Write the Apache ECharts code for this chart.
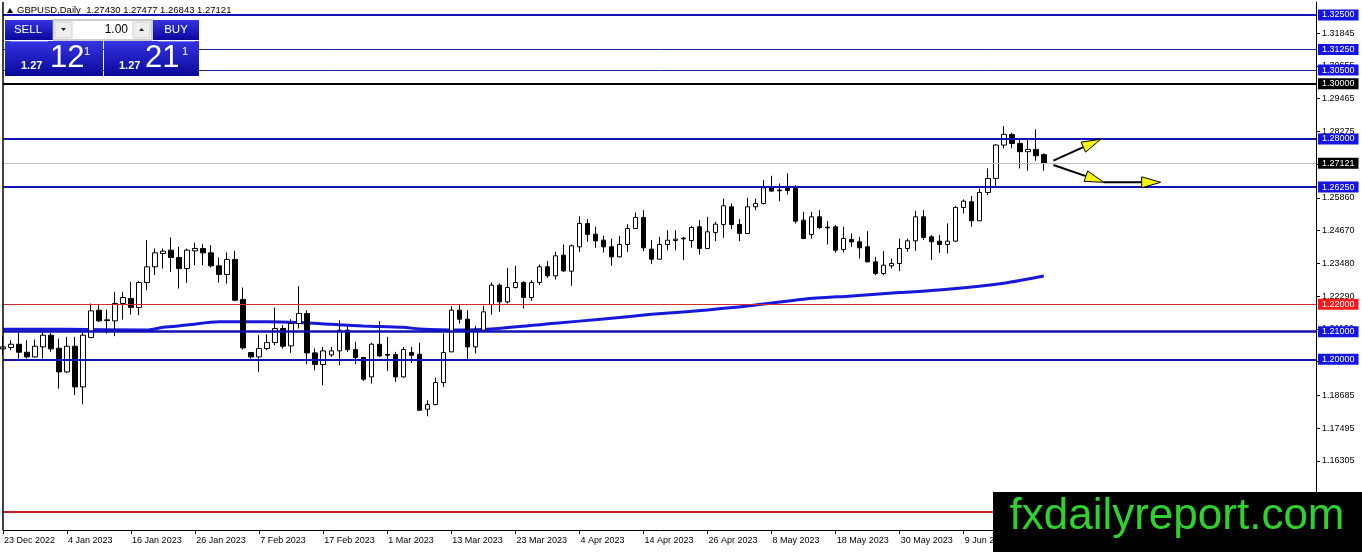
<!DOCTYPE html>
<html>
<head>
    <meta charset="utf-8">
    <title>GBPUSD Daily</title>
    <script src="https://cdn.jsdelivr.net/npm/echarts@6/dist/echarts.min.js"></script>
    <style>
        html, body { margin: 0; padding: 0; background: #fff; }
    </style>
</head>
<body>
    <div id="main" style="width:1362px;height:552px;"></div>
    <script type="text/javascript">
        // daily bars, 23 Dec 2022 .. 23 Jun 2023
        var opens = [
            1.20377, 1.20425, 1.20546, 1.20255, 1.20086, 1.20449, 1.20873, 1.20401, 1.19541, 1.20473,
            1.18996, 1.20788, 1.21781, 1.21430, 1.21394, 1.22024, 1.22205, 1.21878, 1.22786, 1.23356,
            1.23840, 1.23961, 1.23695, 1.23295, 1.23937, 1.24022, 1.23864, 1.23392, 1.23077, 1.23622,
            1.22169, 1.20243, 1.20086, 1.20389, 1.20607, 1.21115, 1.20486, 1.21297, 1.21660, 1.20231,
            1.19807, 1.20159, 1.20304, 1.21055, 1.20352, 1.20062, 1.19359, 1.20546, 1.20171, 1.20171,
            1.19359, 1.20243, 1.20183, 1.18185, 1.18354, 1.19153, 1.20268, 1.21781, 1.21454, 1.20449,
            1.21055, 1.21987, 1.22690, 1.22084, 1.22605, 1.22787, 1.22242, 1.22787, 1.23356, 1.23029,
            1.23780, 1.23198, 1.24082, 1.24930, 1.24542, 1.24324, 1.24082, 1.23719, 1.24167, 1.24748,
            1.25148, 1.23998, 1.23634, 1.24167, 1.24312, 1.24397, 1.24312, 1.24809, 1.24022, 1.24603,
            1.24894, 1.25536, 1.24894, 1.24567, 1.25536, 1.25657, 1.26262, 1.26141, 1.26226, 1.26202,
            1.25051, 1.24530, 1.25172, 1.24797, 1.24809, 1.23986, 1.24349, 1.24264, 1.24082, 1.23537,
            1.23114, 1.23392, 1.23477, 1.24023, 1.24301, 1.25173, 1.24446, 1.24289, 1.24168, 1.24289,
            1.25512, 1.25718, 1.25028, 1.26057, 1.26565, 1.27777, 1.28164, 1.27837, 1.27534, 1.27619,
            1.27430
        ];
        var closes = [
            1.20449, 1.20546, 1.20255, 1.20086, 1.20473, 1.20873, 1.20377, 1.19541, 1.20473, 1.18996,
            1.20873, 1.21757, 1.21394, 1.21406, 1.22024, 1.22242, 1.21878, 1.22786, 1.23356, 1.23864,
            1.23925, 1.23695, 1.23295, 1.23961, 1.24022, 1.23864, 1.23392, 1.23077, 1.23622, 1.22145,
            1.20413, 1.20086, 1.20389, 1.20607, 1.21115, 1.20473, 1.21297, 1.21660, 1.20231, 1.19807,
            1.20304, 1.20304, 1.21055, 1.20352, 1.20062, 1.19275, 1.20546, 1.20122, 1.20146, 1.19359,
            1.20352, 1.20146, 1.18148, 1.18354, 1.19153, 1.20243, 1.21781, 1.21454, 1.20449, 1.21055,
            1.21721, 1.22690, 1.22084, 1.22605, 1.22787, 1.22242, 1.22787, 1.23356, 1.23029, 1.23755,
            1.23210, 1.24119, 1.24930, 1.24530, 1.24300, 1.24082, 1.23719, 1.24167, 1.24748, 1.25148,
            1.24046, 1.23634, 1.24167, 1.24324, 1.24361, 1.24373, 1.24784, 1.24022, 1.24627, 1.24906,
            1.25572, 1.24894, 1.24567, 1.25536, 1.25657, 1.26226, 1.26105, 1.26117, 1.26129, 1.25015,
            1.24385, 1.25172, 1.24785, 1.24773, 1.23961, 1.24385, 1.24264, 1.24046, 1.23537, 1.23114,
            1.23416, 1.23477, 1.24022, 1.24301, 1.25173, 1.24422, 1.24265, 1.24168, 1.24289, 1.25512,
            1.25742, 1.25028, 1.26057, 1.26565, 1.27777, 1.28164, 1.27837, 1.27534, 1.27619, 1.27389,
            1.27121
        ];
        var highs = [
            1.20837, 1.20691, 1.20958, 1.20691, 1.20716, 1.20994, 1.20958, 1.20752, 1.20813, 1.20813,
            1.20994, 1.22024, 1.21963, 1.21806, 1.22447, 1.22447, 1.22811, 1.22847, 1.24324, 1.24022,
            1.24022, 1.24421, 1.24082, 1.24022, 1.24228, 1.24179, 1.24143, 1.23695, 1.23876, 1.23937,
            1.22605, 1.20268, 1.20873, 1.20909, 1.21878, 1.21236, 1.21454, 1.22653, 1.21781, 1.20389,
            1.20449, 1.20449, 1.21418, 1.21200, 1.20631, 1.20086, 1.20595, 1.21382, 1.20813, 1.20268,
            1.20449, 1.20449, 1.20607, 1.18512, 1.19335, 1.20934, 1.21927, 1.21963, 1.21781, 1.21212,
            1.21939, 1.22787, 1.22750, 1.23319, 1.23392, 1.22835, 1.22871, 1.23441, 1.23562, 1.23901,
            1.24167, 1.24167, 1.25196, 1.25087, 1.24809, 1.24482, 1.24385, 1.24482, 1.24905, 1.25330,
            1.25414, 1.24324, 1.24446, 1.24688, 1.24688, 1.24446, 1.24845, 1.25051, 1.25172, 1.24991,
            1.25838, 1.25657, 1.25088, 1.25863, 1.25838, 1.26504, 1.26662, 1.26383, 1.26747, 1.26323,
            1.25354, 1.25354, 1.25415, 1.25015, 1.24870, 1.24809, 1.24567, 1.24446, 1.24651, 1.23719,
            1.23925, 1.23659, 1.24385, 1.24386, 1.25391, 1.25415, 1.24507, 1.24507, 1.24931, 1.25561,
            1.25803, 1.25924, 1.26202, 1.26929, 1.27813, 1.28467, 1.28224, 1.27958, 1.27958, 1.28346,
            1.27477
        ];
        var lows = [
            1.20146, 1.20328, 1.20025, 1.20025, 1.20062, 1.20025, 1.20268, 1.18935, 1.19505, 1.18693,
            1.18366, 1.20788, 1.21357, 1.20934, 1.20837, 1.21442, 1.21624, 1.21600, 1.22508, 1.23053,
            1.23295, 1.23174, 1.22568, 1.22774, 1.23416, 1.23416, 1.23331, 1.22786, 1.22750, 1.22108,
            1.20352, 1.20025, 1.19541, 1.20328, 1.20510, 1.20389, 1.20231, 1.21115, 1.19820, 1.19602,
            1.19057, 1.20086, 1.19783, 1.20268, 1.19820, 1.19214, 1.19117, 1.20086, 1.19577, 1.19178,
            1.19335, 1.19868, 1.18124, 1.17930, 1.18330, 1.18996, 1.20268, 1.21297, 1.20001, 1.20207,
            1.21055, 1.21624, 1.21721, 1.22024, 1.22569, 1.21842, 1.22121, 1.22690, 1.22956, 1.22896,
            1.23174, 1.22665, 1.23901, 1.24264, 1.24046, 1.23876, 1.23392, 1.23695, 1.23901, 1.24748,
            1.23925, 1.23453, 1.23634, 1.23961, 1.23961, 1.23598, 1.24046, 1.23804, 1.23998, 1.24288,
            1.24409, 1.24724, 1.24288, 1.24567, 1.25415, 1.25620, 1.26081, 1.25742, 1.25984, 1.24930,
            1.24361, 1.24385, 1.24724, 1.24167, 1.23877, 1.23877, 1.24082, 1.23659, 1.23513, 1.23053,
            1.23053, 1.23295, 1.23198, 1.23902, 1.23938, 1.24325, 1.23599, 1.23865, 1.23841, 1.24265,
            1.25294, 1.24810, 1.25028, 1.25960, 1.26263, 1.27656, 1.27656, 1.26929, 1.26844, 1.27208,
            1.26843
        ];

        // moving average, sampled along the curve: [bar index, price]
        var maPoints = [
            [0, 1.2109], [8, 1.2109], [18, 1.2106], [20, 1.2116], [23, 1.2124], [27, 1.2136],
            [33, 1.2136], [37, 1.2133], [41, 1.2127], [45, 1.2121], [50, 1.2116], [52, 1.2110],
            [57, 1.2106], [61, 1.2110], [69, 1.2131], [75, 1.2146], [81, 1.2163], [88, 1.2179],
            [93, 1.2193], [100, 1.2218], [106, 1.2230], [112, 1.2242], [118, 1.2254], [125, 1.2276],
            [130, 1.2302]
        ];

        // horizontal levels drawn on the chart
        var levels = [1.32500, 1.31250, 1.30500, 1.30000, 1.28000, 1.27121, 1.26250, 1.22000, 1.21000, 1.20000, 1.14450];

        // price scale labels
        var yTicks = [1.16305, 1.17495, 1.18685, 1.19910, 1.21100, 1.22290, 1.23480, 1.24670,
                      1.25860, 1.27065, 1.28275, 1.29465, 1.30655, 1.31845];

        // arrows: start bar, start price, end bar, end price
        var arrowX1 = [131.2, 131.2, 137.5];
        var arrowY1 = [1.27210, 1.27053, 1.26425];
        var arrowX2 = [137.1, 137.5, 144.6];
        var arrowY2 = [1.27987, 1.26425, 1.26425];

        // categories: weekdays from the first bar, plus empty days for the chart shift
        var totalSlots = 165;
        var months = ['Jan', 'Feb', 'Mar', 'Apr', 'May', 'Jun', 'Jul', 'Aug', 'Sep', 'Oct', 'Nov', 'Dec'];
        var dates = [];
        var day = new Date(2022, 11, 23);
        while (dates.length < totalSlots) {
            var wd = day.getDay();
            if (wd !== 0 && wd !== 6) {
                dates.push(day.getDate() + ' ' + months[day.getMonth()] + ' ' + day.getFullYear());
            }
            day.setDate(day.getDate() + 1);
        }

        var candleData = opens.map(function (o, i) {
            return [o, closes[i], lows[i], highs[i]];
        });
        var arrowData = arrowX1.map(function (x, i) {
            return [x, arrowY1[i], arrowX2[i], arrowY2[i]];
        });

        var BLUE = '#1212b4', BLUE_THIN = '#22229e', BOX_BLUE = '#1414e6';
        var levelStyles = [
            { color: BLUE, width: 2, box: BOX_BLUE },
            { color: BLUE_THIN, width: 1, box: BOX_BLUE },
            { color: BLUE_THIN, width: 1, box: BOX_BLUE },
            { color: '#000', width: 2, box: '#000' },
            { color: BLUE, width: 2, box: BOX_BLUE },
            { color: '#c0c0c0', width: 1, box: '#000' },
            { color: BLUE, width: 2, box: BOX_BLUE },
            { color: '#d42a2a', width: 1, box: '#ff1a1a' },
            { color: BLUE, width: 2.5, box: BOX_BLUE },
            { color: BLUE, width: 2, box: BOX_BLUE },
            { color: '#c42222', width: 2, box: '#ff1a1a' }
        ];
        var levelLines = levels.map(function (v, i) {
            var s = levelStyles[i];
            return {
                yAxis: v,
                lineStyle: { color: s.color, width: s.width, type: 'solid' },
                label: {
                    show: true,
                    position: 'end',
                    distance: 2,
                    formatter: v.toFixed(5),
                    color: '#fff',
                    backgroundColor: s.box,
                    padding: [1, 4, 0, 4],
                    fontSize: 9,
                    lineHeight: 10,
                    fontFamily: 'Liberation Sans'
                }
            };
        });

        var yMax = 1.32972, yMin = 1.13800;
        var FONT = 'Liberation Sans';

        var panelGrad = function () {
            return new echarts.graphic.LinearGradient(0, 0, 0, 1, [
                { offset: 0, color: '#3434e2' },
                { offset: 1, color: '#08089a' }
            ]);
        };

        var myChart = echarts.init(document.getElementById('main'));

        var option = {
            backgroundColor: '#fff',
            animation: false,
            grid: { left: 3, right: 46, top: 2, height: 528 },
            xAxis: [
                {
                    type: 'category',
                    data: dates,
                    boundaryGap: false,
                    axisLine: { show: true, onZero: false, lineStyle: { color: '#000', width: 1 } },
                    axisTick: { show: true, interval: 7, length: 4, lineStyle: { color: '#000' } },
                    axisLabel: {
                        interval: 7, align: 'left', margin: 6, padding: [0, 0, 0, 1],
                        fontSize: 9, color: '#000', fontFamily: FONT
                    },
                    splitLine: { show: false }
                },
                { type: 'value', min: 0, max: totalSlots - 1, show: false, axisLine: { onZero: false } }
            ],
            yAxis: [
                {
                    type: 'value',
                    position: 'right',
                    min: yMin,
                    max: yMax,
                    axisLine: { show: true, onZero: false, lineStyle: { color: '#000', width: 1 } },
                    axisTick: { show: true, inside: false, length: 4, customValues: yTicks, lineStyle: { color: '#000' } },
                    axisLabel: {
                        customValues: yTicks,
                        margin: 6,
                        fontSize: 9,
                        color: '#000',
                        fontFamily: FONT,
                        formatter: function (v) { return v.toFixed(5); }
                    },
                    splitLine: { show: false }
                }
            ],
            series: [
                {
                    name: 'GBPUSD',
                    type: 'candlestick',
                    xAxisIndex: 0,
                    yAxisIndex: 0,
                    data: candleData,
                    barWidth: 5,
                    itemStyle: {
                        color: '#fff',
                        color0: '#000',
                        borderColor: '#000',
                        borderColor0: '#000',
                        borderColorDoji: '#000',
                        borderWidth: 1
                    },
                    markLine: {
                        silent: true,
                        symbol: 'none',
                        animation: false,
                        precision: 5,
                        data: levelLines
                    },
                    z: 3
                },
                {
                    name: 'MA',
                    type: 'line',
                    xAxisIndex: 1,
                    yAxisIndex: 0,
                    data: maPoints,
                    showSymbol: false,
                    smooth: 0.3,
                    lineStyle: { color: '#1818dc', width: 3 },
                    // left frame of the chart window
                    markLine: {
                        silent: true,
                        symbol: 'none',
                        animation: false,
                        label: { show: false },
                        lineStyle: { color: '#000', width: 1.5, type: 'solid' },
                        data: [{ xAxis: 0 }]
                    },
                    z: 2
                },
                {
                    name: 'arrows',
                    type: 'custom',
                    xAxisIndex: 1,
                    yAxisIndex: 0,
                    data: arrowData,
                    encode: { x: [0, 2], y: [1, 3] },
                    clip: false,
                    z: 6,
                    renderItem: function (params, api) {
                        var p1 = api.coord([api.value(0), api.value(1)]);
                        var p2 = api.coord([api.value(2), api.value(3)]);
                        var dx = p2[0] - p1[0], dy = p2[1] - p1[1];
                        var len = Math.sqrt(dx * dx + dy * dy) || 1;
                        var ux = dx / len, uy = dy / len;
                        var hl = 19, hw = 5.5;
                        var bx = p2[0] - ux * hl, by = p2[1] - uy * hl;
                        return {
                            type: 'group',
                            children: [
                                {
                                    type: 'line',
                                    shape: { x1: p1[0], y1: p1[1], x2: bx, y2: by },
                                    style: { stroke: '#000', lineWidth: 2 }
                                },
                                {
                                    type: 'polygon',
                                    shape: { points: [[p2[0], p2[1]], [bx - uy * hw, by + ux * hw], [bx + uy * hw, by - ux * hw]] },
                                    style: { fill: '#f5f50a', stroke: '#000', lineWidth: 1 }
                                }
                            ]
                        };
                    }
                }
            ],
            graphic: [
                // symbol / period caption
                { type: 'polygon', z: 100, shape: { points: [[7, 13], [10, 8], [13, 13]] }, style: { fill: '#000' } },
                {
                    type: 'text', z: 100, x: 17, y: 10,
                    style: { text: 'GBPUSD,Daily  1.27430 1.27477 1.26843 1.27121', fill: '#000',
                             font: "9.5px 'Liberation Sans'", verticalAlign: 'middle' }
                },
                // one-click trading panel
                { type: 'rect', z: 100, shape: { x: 5, y: 20, width: 48, height: 20 }, style: { fill: panelGrad() } },
                { type: 'text', z: 101, x: 28, y: 30, style: { text: 'SELL', fill: '#fff', font: "11.5px 'Liberation Sans'", align: 'center', verticalAlign: 'middle' } },
                { type: 'rect', z: 100, shape: { x: 53, y: 20, width: 99, height: 20 }, style: { fill: '#fff', stroke: '#9a9a9a', lineWidth: 1 } },
                { type: 'rect', z: 101, shape: { x: 55, y: 22, width: 17, height: 16 }, style: { fill: '#eeeeee', stroke: '#cfcfcf', lineWidth: 1 } },
                { type: 'rect', z: 101, shape: { x: 133, y: 22, width: 17, height: 16 }, style: { fill: '#eeeeee', stroke: '#cfcfcf', lineWidth: 1 } },
                { type: 'polygon', z: 102, shape: { points: [[61, 28], [66, 28], [63.5, 31]] }, style: { fill: '#222' } },
                { type: 'polygon', z: 102, shape: { points: [[139, 31], [144, 31], [141.5, 28]] }, style: { fill: '#222' } },
                { type: 'text', z: 101, x: 128, y: 30, style: { text: '1.00', fill: '#000', font: "12px 'Liberation Sans'", align: 'right', verticalAlign: 'middle' } },
                { type: 'rect', z: 100, shape: { x: 153, y: 20, width: 46, height: 20 }, style: { fill: panelGrad() } },
                { type: 'text', z: 101, x: 176, y: 30, style: { text: 'BUY', fill: '#fff', font: "11.5px 'Liberation Sans'", align: 'center', verticalAlign: 'middle' } },
                { type: 'rect', z: 100, shape: { x: 5, y: 41, width: 98, height: 35 }, style: { fill: panelGrad() } },
                { type: 'line', z: 101, shape: { x1: 10, y1: 41.5, x2: 48, y2: 41.5 }, style: { stroke: '#7a7af0', lineWidth: 1 } },
                { type: 'text', z: 101, x: 21, y: 71, style: { text: '1.27', fill: '#fff', font: "bold 11px 'Liberation Sans'", verticalAlign: 'bottom' } },
                { type: 'text', z: 101, x: 50, y: 74, style: { text: '12', fill: '#fff', font: "31px 'Liberation Sans'", verticalAlign: 'bottom' } },
                { type: 'text', z: 101, x: 84, y: 57, style: { text: '1', fill: '#fff', font: "11px 'Liberation Sans'", verticalAlign: 'bottom' } },
                { type: 'rect', z: 100, shape: { x: 104, y: 41, width: 95, height: 35 }, style: { fill: panelGrad() } },
                { type: 'line', z: 101, shape: { x1: 158, y1: 41.5, x2: 195, y2: 41.5 }, style: { stroke: '#7a7af0', lineWidth: 1 } },
                { type: 'text', z: 101, x: 119, y: 71, style: { text: '1.27', fill: '#fff', font: "bold 11px 'Liberation Sans'", verticalAlign: 'bottom' } },
                { type: 'text', z: 101, x: 145, y: 74, style: { text: '21', fill: '#fff', font: "31px 'Liberation Sans'", verticalAlign: 'bottom' } },
                { type: 'text', z: 101, x: 182, y: 57, style: { text: '1', fill: '#fff', font: "11px 'Liberation Sans'", verticalAlign: 'bottom' } },
                // watermark
                { type: 'rect', z: 110, shape: { x: 993, y: 492, width: 369, height: 60 }, style: { fill: '#000' } },
                { type: 'text', z: 111, x: 1177, y: 517, style: { text: 'fxdailyreport.com', fill: '#2fd12f', font: "44px 'Liberation Sans'", align: 'center', verticalAlign: 'middle' } }
            ]
        };

        myChart.setOption(option);
    </script>
</body>
</html>
